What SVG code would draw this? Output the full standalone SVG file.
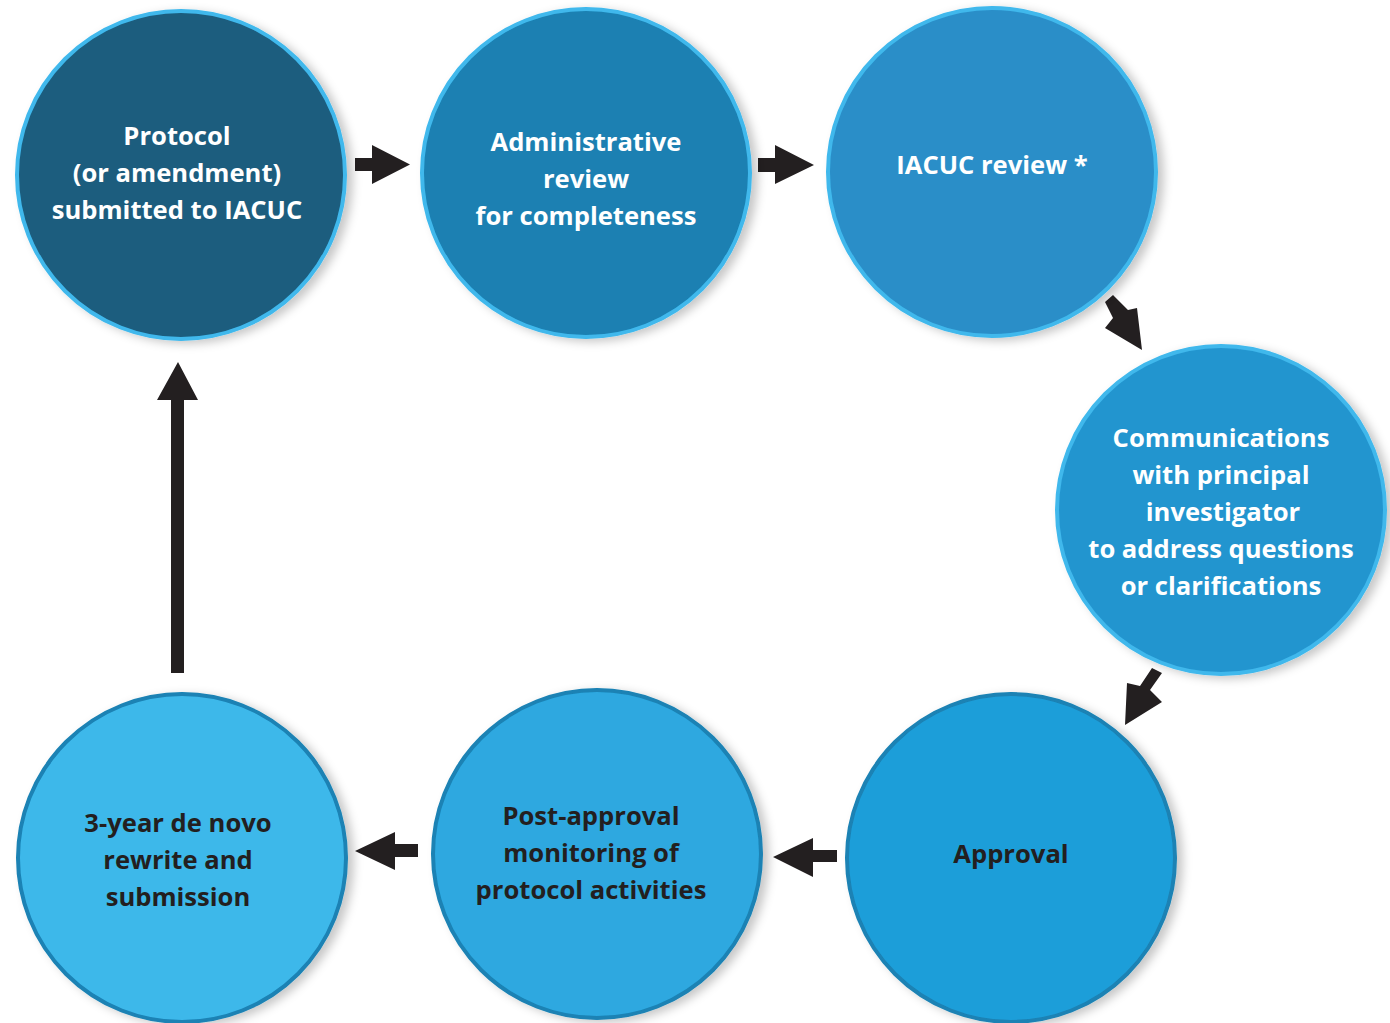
<svg xmlns="http://www.w3.org/2000/svg" width="1390" height="1023" viewBox="0 0 1390 1023">
  <defs>
    <filter id="sh" x="-20%" y="-20%" width="140%" height="140%">
      <feDropShadow dx="6" dy="3" stdDeviation="5" flood-color="#000" flood-opacity="0.22"/>
    </filter>
    <style>
      .c { stroke-width: 4; filter: url(#sh); }
      .top { stroke: #3fb8ec; }
      .bot { stroke: #1a82b4; }
      .t { font-family: "Open Sans", "Liberation Sans", sans-serif; font-weight: 700; font-size: 25.6px; text-anchor: middle; }
      .w { fill: #ffffff; }
      .d { fill: #231f20; }
      .arr { fill: #231f20; }
    </style>
  </defs>
  <rect width="1390" height="1023" fill="#ffffff"/>

  <g id="connectors">
    <polygon class="arr" points="355,158 372,158 372,145 410,164.5 372,184 372,171 355,171"/>
    <polygon class="arr" points="758,158 775,158 775,145 814,165 775,184 775,172 758,172"/>
    <polygon class="arr" points="1113,295 1128,310 1137,308 1142,350 1105,328 1113,318 1105,302"/>
    <polygon class="arr" points="1152,668 1162,673 1150,690 1162,702 1125,725 1127,683 1140,686"/>
    <polygon class="arr" points="837,850 813,850 813,838 773,857 813,877 813,862 837,862"/>
    <polygon class="arr" points="418,844 395,844 395,832 355,851 395,870 395,857 418,857"/>
    <polygon class="arr" points="171,673 171,400 157,400 178,362 198,400 184,400 184,673"/>
  </g>

  <g id="node1">
    <circle class="c top" cx="181" cy="175" r="164" fill="#1b5d7e"/>
    <text class="t w" x="177" y="145">Protocol</text>
    <text class="t w" x="177" y="182">(or amendment)</text>
    <text class="t w" x="177" y="219">submitted to IACUC</text>
  </g>
  <g id="node2">
    <circle class="c top" cx="586" cy="173" r="164" fill="#1a80b2"/>
    <text class="t w" x="586" y="151">Administrative</text>
    <text class="t w" x="586" y="188">review</text>
    <text class="t w" x="586" y="225">for completeness</text>
  </g>
  <g id="node3">
    <circle class="c top" cx="992" cy="172" r="164" fill="#2a8ec8"/>
    <text class="t w" x="992" y="174">IACUC review *</text>
  </g>
  <g id="node4">
    <circle class="c top" cx="1221" cy="510" r="164" fill="#2495cf"/>
    <text class="t w" x="1221" y="447">Communications</text>
    <text class="t w" x="1221" y="484">with principal</text>
    <text class="t w" x="1223" y="521">investigator</text>
    <text class="t w" x="1221" y="558">to address questions</text>
    <text class="t w" x="1221" y="595">or clarifications</text>
  </g>
  <g id="node5">
    <circle class="c bot" cx="1011" cy="858" r="164" fill="#1e9ed9"/>
    <text class="t d" x="1011" y="863">Approval</text>
  </g>
  <g id="node6">
    <circle class="c bot" cx="597" cy="854" r="164" fill="#2da8e0"/>
    <text class="t d" x="591" y="825">Post-approval</text>
    <text class="t d" x="591" y="862">monitoring of</text>
    <text class="t d" x="591" y="899">protocol activities</text>
  </g>
  <g id="node7">
    <circle class="c bot" cx="182" cy="858" r="164" fill="#3eb8ea"/>
    <text class="t d" x="178" y="832">3-year de novo</text>
    <text class="t d" x="178" y="869">rewrite and</text>
    <text class="t d" x="178" y="906">submission</text>
  </g>
</svg>
